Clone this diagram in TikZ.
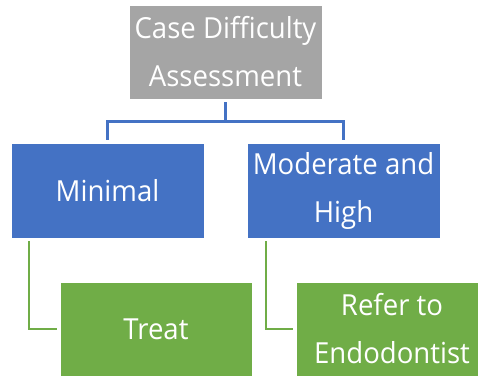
\documentclass[tikz,border=0pt]{standalone}
\usepackage{fontspec}
\setmainfont[FakeStretch=0.95]{Open Sans}
\definecolor{cgray}{HTML}{A5A5A5}
\definecolor{cblue}{HTML}{4472C4}
\definecolor{cgreen}{HTML}{70AD47}
\tikzset{
  box/.style={draw=white, line width=0.6pt, minimum width=193pt, minimum height=94pt, inner sep=0pt, text=white, align=center, font=\fontsize{29}{48}\selectfont},
  grayb/.style={box, fill=cgray},
  blueb/.style={box, fill=cblue},
  greenb/.style={box, fill=cgreen},
  bline/.style={draw=cblue, line width=2.4pt},
  gline/.style={draw=cgreen, line width=2.4pt},
}
\begin{document}
\begin{tikzpicture}[x=1pt,y=-1pt]
\useasboundingbox[clip] (0,0) rectangle (478,376);
\node[grayb] (g) at (225.5,52) {Case Difficulty\\Assessment};
\node[blueb, minimum height=95pt] (b1) at (107.5,190.5) {Minimal};
\node[blueb, minimum height=95pt] (b2) at (343.5,190.5) {Moderate and\\High};
\node[greenb, minimum width=192pt] (t1) at (156,329) {Treat};
\node[greenb, minimum width=192pt] (t2) at (392,329) {Refer to\\Endodontist};
\coordinate (fork) at ([yshift=-22pt]g.south);
\draw[bline] ([yshift=-3pt]g.south) -- (fork);
\draw[bline] ([yshift=3pt]b1.north) |- (fork) -| ([yshift=3pt]b2.north);
\draw[gline] ([xshift=18pt,yshift=-3pt]b1.south west) |- ([xshift=-3pt]t1.west);
\draw[gline] ([xshift=19pt,yshift=-3pt]b2.south west) |- ([xshift=-3pt]t2.west);
\end{tikzpicture}
\end{document}
